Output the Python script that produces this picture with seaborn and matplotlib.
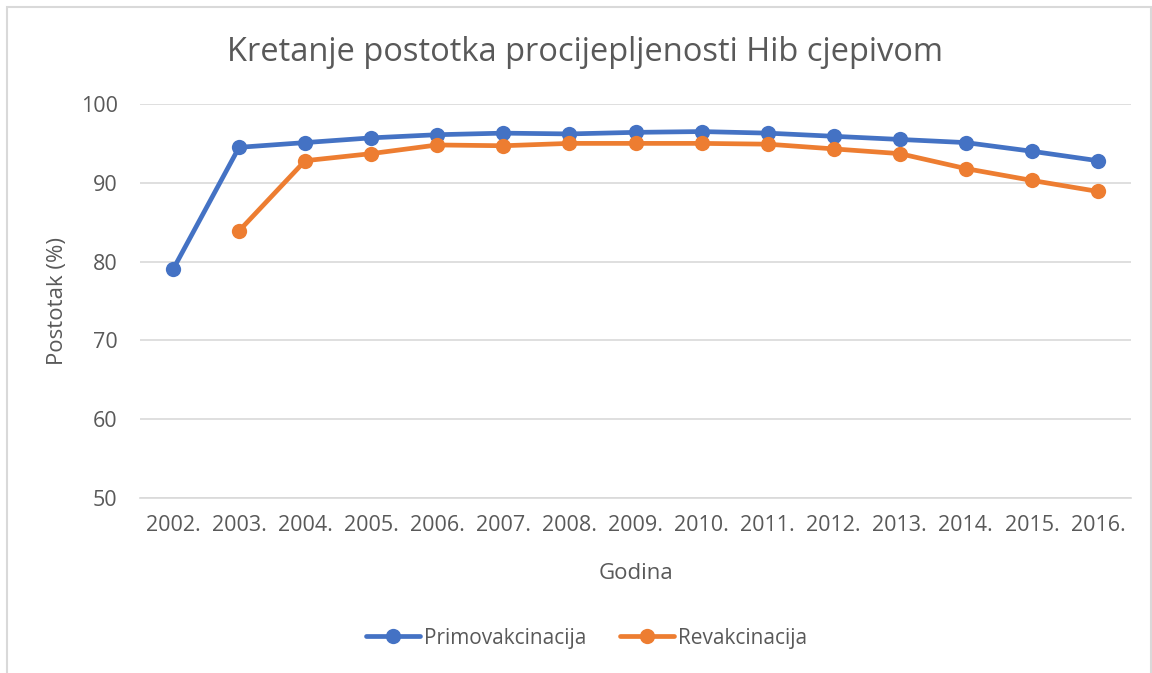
import matplotlib.pyplot as plt
import matplotlib.patches as mpatches
import numpy as np
import pandas as pd
import seaborn as sns

# Data
years = list(range(2002, 2017))
primovakcinacija = [79.0, 94.5, 95.1, 95.7, 96.1, 96.3, 96.2, 96.4, 96.5, 96.3, 95.9, 95.5, 95.1, 94.0, 92.8]
revakcinacija = [np.nan, 83.9, 92.8, 93.7, 94.8, 94.7, 95.0, 95.0, 95.0, 94.9, 94.3, 93.7, 91.8, 90.3, 88.9]
year_labels = [f"{y}." for y in years]

sns.set_theme(style="white")
plt.rcParams["font.family"] = ["Open Sans", "DejaVu Sans"]
text_color = "#595959"

df = pd.DataFrame({"Godina": years,
                   "Primovakcinacija": primovakcinacija,
                   "Revakcinacija": revakcinacija})

fig = plt.figure(figsize=(11.52, 6.73), dpi=100)
ax = fig.add_axes([0.1215, 0.26, 0.8603, 0.5855])

for col, color in (("Primovakcinacija", "#4472C4"), ("Revakcinacija", "#ED7D31")):
    sub = df.dropna(subset=[col])
    sns.lineplot(data=sub, x="Godina", y=col, ax=ax, color=color, label=col,
                 marker="o", markersize=11, markeredgewidth=0, linewidth=3.4)

ax.set_xlim(2001.5, 2016.5)
ax.set_ylim(50, 100)
ax.set_yticks(range(50, 101, 10))
ax.set_xticks(years)
ax.set_xticklabels(year_labels)
ax.yaxis.grid(True, color="#D9D9D9", linewidth=1.2)
ax.set_axisbelow(True)
for side in ("top", "right", "left"):
    ax.spines[side].set_visible(False)
ax.spines["bottom"].set_color("#D9D9D9")
ax.spines["bottom"].set_linewidth(1.2)
ax.tick_params(axis="both", colors=text_color, labelsize=15.5, length=0)
ax.tick_params(axis="x", pad=12)
ax.tick_params(axis="y", pad=16)

ax.set_xlabel("Godina", fontsize=16, color=text_color, labelpad=20)
ax.set_ylabel("Postotak (%)", fontsize=16, color=text_color, labelpad=9)
fig.suptitle("Kretanje postotka procijepljenosti Hib cjepivom", fontsize=23.5,
             color=text_color, x=0.508, y=0.946)

ax.get_legend().remove()
handles, labels = ax.get_legend_handles_labels()
fig.legend(handles, labels, loc="center", bbox_to_anchor=(0.509, 0.052), ncol=2,
           frameon=False, fontsize=15, labelcolor=text_color, handlelength=2.6,
           handletextpad=0.2, columnspacing=1.6)

# light frame around the chart area (bottom edge falls outside the image)
fig.patches.append(mpatches.Rectangle((0.006, -0.05), 0.993, 1.04, transform=fig.transFigure,
                                      fill=False, edgecolor="#D9D9D9", linewidth=1.5))

fig.savefig("out.png", dpi=100)
